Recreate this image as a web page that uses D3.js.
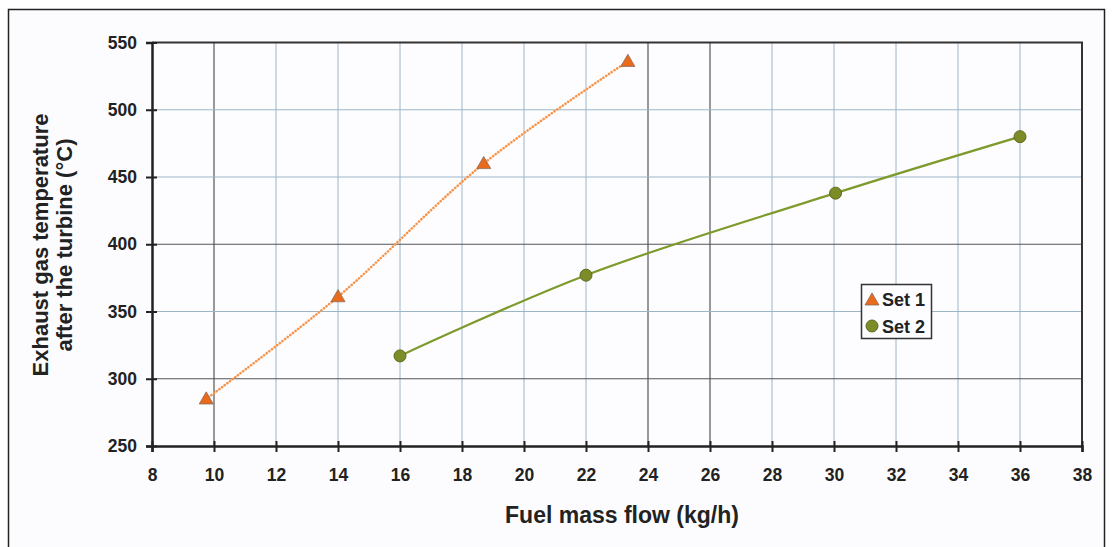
<!DOCTYPE html>
<html>
<head>
<meta charset="utf-8">
<script src="https://cdn.jsdelivr.net/npm/d3@7"></script>
<style>
  body { margin: 0; background: #ffffff; }
  svg { display: block; }
</style>
</head>
<body>
<svg id="chart" width="1112" height="547"></svg>
<script>
// Data
var set1X = [9.75, 14, 18.7, 23.35];
var set1Y = [285, 361, 460, 536];
var set2X = [16, 22, 30.05, 36];
var set2Y = [317, 377, 438, 480];
var xTicks = [8, 10, 12, 14, 16, 18, 20, 22, 24, 26, 28, 30, 32, 34, 36, 38];
var yTicks = [250, 300, 350, 400, 450, 500, 550];
var darkX = [10, 24, 26];
var darkY = [300, 400];

var svg = d3.select("#chart");
var font = "'Liberation Sans', Arial, sans-serif";

// Outer frame
svg.append("rect")
  .attr("x", 8.5).attr("y", 9.5)
  .attr("width", 1096).attr("height", 545)
  .attr("fill", "#fcfcfe")
  .attr("stroke", "#222")
  .attr("stroke-width", 1.5);

var margin = { top: 42.5, left: 152, right: 1082, bottom: 446 };

var x = d3.scaleLinear().domain([8, 38]).range([margin.left, margin.right]);
var y = d3.scaleLinear().domain([250, 550]).range([margin.bottom, margin.top]);

// Plot background
svg.append("rect")
  .attr("x", margin.left).attr("y", margin.top)
  .attr("width", margin.right - margin.left)
  .attr("height", margin.bottom - margin.top)
  .attr("fill", "#fdfdff");

// Grid lines
svg.append("g").selectAll("line")
  .data(xTicks.slice(1, -1))
  .join("line")
  .attr("x1", (d) => x(d)).attr("x2", (d) => x(d))
  .attr("y1", margin.top).attr("y2", margin.bottom)
  .attr("stroke", (d) => darkX.indexOf(d) >= 0 ? "#555" : "#9db6c6")
  .attr("stroke-width", (d) => darkX.indexOf(d) >= 0 ? 1.2 : 1);

svg.append("g").selectAll("line")
  .data(yTicks.slice(1, -1))
  .join("line")
  .attr("x1", margin.left).attr("x2", margin.right)
  .attr("y1", (d) => y(d)).attr("y2", (d) => y(d))
  .attr("stroke", (d) => darkY.indexOf(d) >= 0 ? "#555" : "#9db6c6")
  .attr("stroke-width", (d) => darkY.indexOf(d) >= 0 ? 1.2 : 1);

// Plot border top/right
svg.append("path")
  .attr("d", "M" + margin.left + "," + margin.top + "H" + margin.right + "V" + margin.bottom)
  .attr("fill", "none")
  .attr("stroke", "#333")
  .attr("stroke-width", 2);

// Axes (ticks cross the axis line)
var xAxis = d3.axisBottom(x).tickValues(xTicks).tickSize(6).tickPadding(17).tickFormat(d3.format("d"));
var yAxis = d3.axisLeft(y).tickValues(yTicks).tickSize(6).tickPadding(9).tickFormat(d3.format("d"));

var xGroup = svg.append("g").attr("transform", "translate(0," + margin.bottom + ")").call(xAxis);
var yGroup = svg.append("g").attr("transform", "translate(" + margin.left + ",0)").call(yAxis);

[xGroup, yGroup].forEach(function (g) {
  g.select(".domain").attr("stroke", "#222").attr("stroke-width", 2.5);
  g.selectAll(".tick line").attr("stroke", "#222").attr("stroke-width", 2);
  g.selectAll(".tick text")
    .attr("fill", "#222")
    .style("font-family", font)
    .style("font-weight", "bold")
    .style("font-size", "17.5px");
});
xGroup.selectAll(".tick line").attr("y1", -5).attr("y2", 6);
yGroup.selectAll(".tick line").attr("x1", 5).attr("x2", -6);

// Curves
var line = d3.line()
  .x((d) => x(d[0]))
  .y((d) => y(d[1]))
  .curve(d3.curveCatmullRom.alpha(0.5));

var pts1 = set1X.map((v, i) => [v, set1Y[i]]);
var pts2 = set2X.map((v, i) => [v, set2Y[i]]);

svg.append("path")
  .attr("d", line(pts1))
  .attr("fill", "none")
  .attr("stroke", "#f7944a")
  .attr("stroke-width", 2.6)
  .attr("stroke-linecap", "round")
  .attr("stroke-dasharray", "0.1,3.2");

svg.append("path")
  .attr("d", line(pts2))
  .attr("fill", "none")
  .attr("stroke", "#7e9a2c")
  .attr("stroke-width", 2.2);

// Markers
var tri = d3.symbol().type(d3.symbolTriangle).size(85);
svg.append("g").selectAll("path")
  .data(pts1)
  .join("path")
  .attr("d", tri)
  .attr("transform", (d) => "translate(" + x(d[0]) + "," + (y(d[1]) + 1) + ")")
  .attr("fill", "#ea6a1c")
  .attr("stroke", "#8a6a5a")
  .attr("stroke-width", 0.8);

svg.append("g").selectAll("circle")
  .data(pts2)
  .join("circle")
  .attr("cx", (d) => x(d[0]))
  .attr("cy", (d) => y(d[1]))
  .attr("r", 6)
  .attr("fill", "#7d8c26")
  .attr("stroke", "#5c6a22")
  .attr("stroke-width", 1);

// Legend
var legend = svg.append("g").attr("transform", "translate(861,284)");
legend.append("rect")
  .attr("x", 0.5).attr("y", 0.5)
  .attr("width", 70).attr("height", 54)
  .attr("fill", "#fdfdff")
  .attr("stroke", "#333")
  .attr("stroke-width", 1.5);
legend.append("path")
  .attr("d", tri)
  .attr("transform", "translate(11,17)")
  .attr("fill", "#ea6a1c")
  .attr("stroke", "#8a6a5a")
  .attr("stroke-width", 0.8);
legend.append("circle")
  .attr("cx", 11).attr("cy", 42).attr("r", 6)
  .attr("fill", "#7d8c26")
  .attr("stroke", "#5c6a22");
["Set 1", "Set 2"].forEach(function (t, i) {
  legend.append("text")
    .text(t)
    .attr("x", 21).attr("y", 22 + i * 27)
    .attr("fill", "#222")
    .style("font-family", font)
    .style("font-weight", "bold")
    .style("font-size", "18px");
});

// Axis titles
svg.append("text")
  .text("Fuel mass flow (kg/h)")
  .attr("x", 622).attr("y", 523)
  .attr("text-anchor", "middle")
  .attr("fill", "#222")
  .style("font-family", font)
  .style("font-weight", "bold")
  .style("font-size", "23px");

var yTitle = svg.append("text")
  .attr("transform", "translate(0," + 245 + ") rotate(-90)")
  .attr("text-anchor", "middle")
  .attr("fill", "#222")
  .style("font-family", font)
  .style("font-weight", "bold")
  .style("font-size", "22px");
yTitle.append("tspan").attr("x", 0).attr("y", 48).text("Exhaust gas temperature");
yTitle.append("tspan").attr("x", 0).attr("y", 72).text("after the turbine (°C)");
</script>
</body>
</html>
